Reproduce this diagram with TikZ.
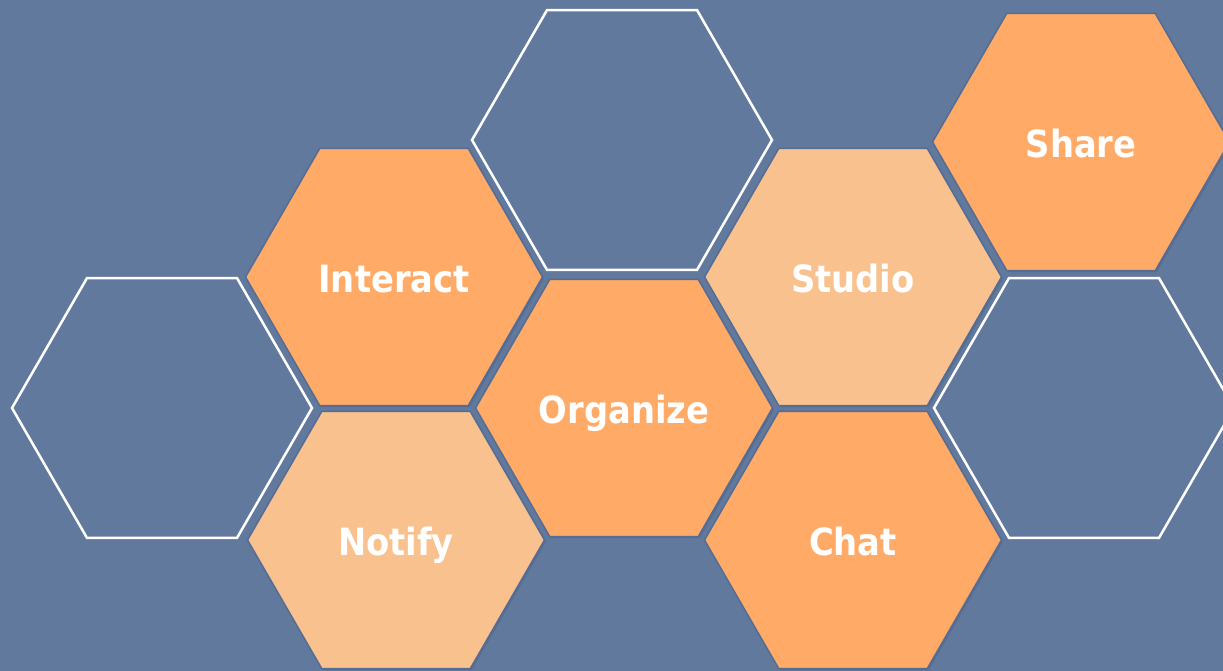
\documentclass[tikz,border=0pt]{standalone}
\usepackage{fontspec}
\setmainfont{DejaVu Sans Condensed}
\usetikzlibrary{shapes.geometric,shadows}
\definecolor{bgblue}{HTML}{62799E}
\definecolor{shadeblue}{HTML}{556C94}
\definecolor{hexorange}{HTML}{FFAA66}
\definecolor{hexpeach}{HTML}{F9C18D}
\tikzset{
  hexbase/.style={regular polygon, regular polygon sides=6, minimum size=300pt,
    inner sep=0pt, text height=31pt, text depth=0pt,
    font=\bfseries\fontsize{37.5}{40}\selectfont, text=white},
  hexfilled/.style={hexbase, minimum size=297pt, draw=shadeblue, line width=1.5pt,
    copy shadow={shadow xshift=1.5pt, shadow yshift=-1.5pt, fill=shadeblue, draw=none}},
  hexfull/.style={hexfilled, fill=hexorange},
  hexlight/.style={hexfilled, fill=hexpeach},
  hexempty/.style={hexbase, draw=white, line width=2.5pt},
}
\begin{document}
\begin{tikzpicture}[x=1pt, y=1pt]
  \useasboundingbox (0,0) rectangle (1223,671);
  \clip (0,0) rectangle (1223,671);
  \fill[bgblue] (0,0) rectangle (1223,671);

  % empty cells
  \node[hexempty] (leftcell)  at (162,263) {};
  \node[hexempty] (topcell)   at (622,531) {};
  \node[hexempty] (rightcell) at (1084,263) {};

  % filled cells
  \node[hexfull]  (interact) at (394,394)  {Interact};
  \node[hexlight] (notify)   at (396,131)  {Notify};
  \node[hexfull]  (organize) at (624,263)  {Organize};
  \node[hexlight] (studio)   at (853,394)  {Studio};
  \node[hexfull]  (chat)     at (853,131)  {Chat};
  \node[hexfull]  (share)    at (1081,529) {Share};
\end{tikzpicture}
\end{document}
